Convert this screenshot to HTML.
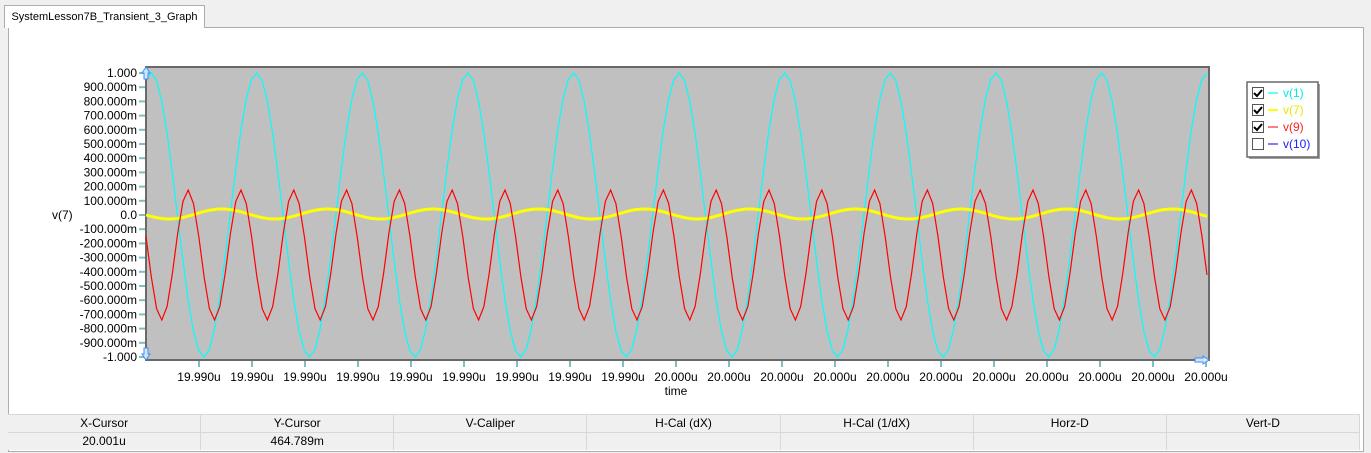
<!DOCTYPE html>
<html><head><meta charset="utf-8"><style>
body{margin:0;width:1371px;height:453px;background:#f0f0f0;font-family:"Liberation Sans",Arial,sans-serif;overflow:hidden;position:relative}
.tab{position:absolute;left:4px;top:5px;width:199px;height:22px;background:#fff;border:1px solid #adadad;border-bottom:none;font-size:11px;line-height:22px;text-align:center;z-index:2;white-space:nowrap}
.panel{position:absolute;left:8px;top:27px;width:1354px;height:423px;background:#fff;border:1px solid #adadad}
.tbl{position:absolute;left:8px;top:414px;width:1352px;font-size:12px}
.row{display:flex;height:17px;line-height:17px;background:#f0f0f0;border-top:1px solid #d8d8d8}
.row div{flex:1;text-align:center;border-right:1px solid #d8d8d8}
</style></head><body>
<div class="tab">SystemLesson7B_Transient_3_Graph</div>
<div class="panel"></div>
<svg id="s" width="1371" height="453" style="position:absolute;left:0;top:0" font-family="Liberation Sans, Arial, sans-serif" font-size="12">
<rect x="146" y="67" width="1063" height="293" fill="#c0c0c0" stroke="#696969" stroke-width="2"/>
<g id="yt"></g><g id="xt"></g>
<text x="52" y="219" font-size="12">v(7)</text>
<text x="676" y="395" text-anchor="middle">time</text>
<path id="cy" fill="none" stroke="#00ffff" stroke-width="1.2"/>
<path id="ye" fill="none" stroke="#ffff00" stroke-width="3"/>
<path id="re" fill="none" stroke="#ff0000" stroke-width="1.2"/>
<path d="M146 67 l-4 6 h2 v6 h4 v-6 h2z" fill="#cfe6ff" stroke="#3d8ef0"/>
<path d="M146 360 l-4 -6 h2 v-6 h4 v6 h2z" fill="#cfe6ff" stroke="#3d8ef0"/>
<path d="M1209 360 l-6 -4 v2 h-8 v4 h8 v2z" fill="#cfe6ff" stroke="#3d8ef0"/>
<rect x="1249" y="84" width="71" height="75" fill="#a0a0a0"/>
<rect x="1247" y="82" width="71" height="75" fill="#fff" stroke="#696969" stroke-width="1.5"/>
<g id="lg"></g>
</svg>
<div class="tbl">
<div class="row"><div>X-Cursor</div><div>Y-Cursor</div><div>V-Caliper</div><div>H-Cal (dX)</div><div>H-Cal (1/dX)</div><div>Horz-D</div><div>Vert-D</div></div>
<div class="row"><div>20.001u</div><div>464.789m</div><div></div><div></div><div></div><div></div><div></div></div>
</div>
<script>
var NS="http://www.w3.org/2000/svg";
function el(p,t,a,txt){var e=document.createElementNS(NS,t);for(var k in a)e.setAttribute(k,a[k]);if(txt!=null)e.textContent=txt;p.appendChild(e);return e;}
var yt=document.getElementById('yt');
var labs=["1.000","900.000m","800.000m","700.000m","600.000m","500.000m","400.000m","300.000m","200.000m","100.000m","0.0","-100.000m","-200.000m","-300.000m","-400.000m","-500.000m","-600.000m","-700.000m","-800.000m","-900.000m","-1.000"];
for(var i=0;i<21;i++){var y=73+i*14.2;el(yt,'line',{x1:139,x2:145,y1:y,y2:y,stroke:'#7fbfbf','stroke-width':2});el(yt,'text',{x:137,y:y+4,'text-anchor':'end'},labs[i]);}
var xt=document.getElementById('xt');
for(var i=0;i<20;i++){var x=i<19?199+i*53:1206;el(xt,'line',{x1:x,x2:x,y1:361,y2:367,stroke:'#7fbfbf','stroke-width':2});el(xt,'text',{x:x,y:381,'text-anchor':'middle'},i<9?"19.990u":"20.000u");}
function path(id,f,step,end){var d="",x;for(x=146;x<=end+0.01;x+=step){d+=(d?"L":"M")+x.toFixed(1)+" "+f(x).toFixed(1);}if(x-step<end-0.5)d+="L"+end+" "+f(end).toFixed(1);document.getElementById(id).setAttribute('d',d);}
var T=105.6,P=2*Math.PI;
path('cy',function(x){return 215-142*Math.cos(P*(x-151)/T);},T/20,1207);
path('ye',function(x){return 214-5*Math.cos(P*(x-222)/T);},2,1207);
path('re',function(x){return 255-65*Math.cos(P*(x-188)/(T/2));},T/20,1207);
var lg=document.getElementById('lg');
var items=[["v(1)","#00e8e8","#66ffff",1],["v(7)","#e8e800","#ffff00",1],["v(9)","#ff2020","#ff8080",1],["v(10)","#2020ff","#8080ff",0]];
items.forEach(function(it,i){var y=93+i*17;el(lg,'rect',{x:1252.5,y:y-5.5,width:11,height:11,fill:'#fff',stroke:'#555'});
if(it[3])el(lg,'path',{d:'M1254 '+(y)+' l3 3 l5 -6',fill:'none',stroke:'#000','stroke-width':2});
el(lg,'line',{x1:1268,x2:1278,y1:y,y2:y,stroke:it[2],'stroke-width':2});
el(lg,'text',{x:1283,y:y+4,fill:it[1]},it[0]);});
</script>
</body></html>
